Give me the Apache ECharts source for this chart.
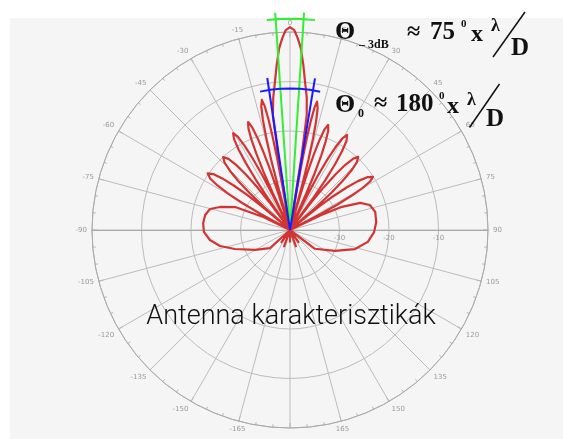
<!DOCTYPE html>
<html>
<head>
<meta charset="utf-8">
<script src="https://cdn.jsdelivr.net/npm/echarts@6/dist/echarts.min.js"></script>
<style>
  html, body { margin: 0; padding: 0; background: #ffffff; }
  #chart { width: 563px; height: 439px; }
</style>
</head>
<body>
<div id="chart"></div>
<script>
// Angle ticks (degrees, 0 = boresight, clockwise positive) and level rings (dB)
const angleMin = -180, angleMax = 180, angleStep = 15;
const levelMin = -40, levelMax = 0, levelStep = 10;
// headroom above 0 dB so the main lobe and beam markers can reach past the outer ring
const levelTop = 5;

// Radiation pattern, [angle in degrees, level in dB], ordered by angle
const backLobesLeft = [[-180,-37.5],[-168,-40],[-160,-36.5],[-152,-40],[-145,-37],[-140,-40]];
const wideLobeLeft = [[-132,-34.5],[-119.7,-31.9],[-109,-28.2],[-102.9,-25.5],[-97.1,-23.7],[-91.3,-22.6],
  [-85.4,-22.4],[-80,-22.6],[-75.3,-23.3],[-71.8,-25.1],[-67.3,-28.0],[-64,-34],[-63,-40]];
const sideLobesLeft = [
  [-62.0,-40],[-61.35,-32.9],[-60.57,-28.9],[-59.53,-25.5],[-58.43,-22.8],[-57.13,-20.8],[-55.5,-19.8],
  [-53.95,-20.8],[-52.71,-22.8],[-51.66,-25.5],[-50.66,-28.9],[-49.92,-32.9],[-49.3,-40],
  [-49.0,-40],[-48.35,-33.0],[-47.57,-29.0],[-46.53,-25.6],[-45.43,-23.0],[-44.13,-21.0],[-42.5,-20.0],
  [-40.87,-21.0],[-39.57,-23.0],[-38.47,-25.6],[-37.43,-29.0],[-36.65,-33.0],[-36.0,-40],
  [-35.2,-40],[-34.72,-32.1],[-34.14,-27.5],[-33.38,-23.7],[-32.56,-20.7],[-31.6,-18.4],[-30.4,-17.3],
  [-29.25,-18.4],[-28.33,-20.7],[-27.55,-23.7],[-26.81,-27.5],[-26.26,-32.1],[-25.8,-40],
  [-25.4,-40],[-24.98,-31.8],[-24.48,-27.1],[-23.8,-23.2],[-23.09,-20.1],[-22.25,-17.8],[-21.2,-16.6],
  [-20.25,-17.8],[-19.49,-20.1],[-18.84,-23.2],[-18.24,-27.1],[-17.78,-31.8],[-17.4,-40],
  [-15.8,-40],[-15.44,-30.6],[-15.01,-25.2],[-14.43,-20.6],[-13.82,-17.1],[-13.1,-14.4],[-12.2,-13.1],
  [-11.55,-14.4],[-11.03,-17.1],[-10.59,-20.6],[-10.17,-25.2],[-9.86,-30.6],[-9.6,-40]];
const mainLobe = [[-9.4,-40],[-9.0,-25],[-8.5,-16.6],[-7.2,-13.0],[-5.8,-9.9],[-4.6,-6.5],[-3.4,-3.2],
  [-2.3,-1.2],[-1.2,0.4],[0,1.0],[1.2,0.4],[2.3,-1.2],[3.4,-3.2],[4.6,-6.5],[5.8,-9.9],[7.2,-13.0],
  [8.3,-16.6],[8.9,-25],[9.3,-40]];
const sideLobesRight = [
  [9.5,-40],[9.74,-30.7],[10.03,-25.4],[10.41,-20.9],[10.82,-17.5],[11.3,-14.8],[11.9,-13.5],
  [12.8,-14.8],[13.52,-17.5],[14.13,-20.9],[14.71,-25.4],[15.14,-30.7],[15.5,-40],
  [16.1,-40],[16.48,-32.1],[16.94,-27.6],[17.54,-23.7],[18.19,-20.8],[18.95,-18.5],[19.9,-17.4],
  [21.05,-18.5],[21.97,-20.8],[22.75,-23.7],[23.49,-27.6],[24.04,-32.1],[24.5,-40],
  [26.0,-40],[26.5,-32.2],[27.1,-27.7],[27.9,-23.9],[28.75,-21.0],[29.75,-18.7],[31.0,-17.6],
  [32.38,-18.7],[33.48,-21.0],[34.41,-23.9],[35.29,-27.7],[35.95,-32.2],[36.5,-40],
  [37.0,-40],[37.6,-32.9],[38.32,-28.9],[39.28,-25.5],[40.3,-22.8],[41.5,-20.8],[43.0,-19.8],
  [44.63,-20.8],[45.93,-22.8],[47.03,-25.5],[48.07,-28.9],[48.85,-32.9],[49.5,-40],
  [50.4,-40],[51.1,-33.0],[51.94,-29.1],[53.06,-25.7],[54.25,-23.1],[55.65,-21.1],[57.4,-20.1],
  [58.8,-21.1],[59.92,-23.1],[60.87,-25.7],[61.77,-29.1],[62.44,-33.0],[63.0,-40]];
const wideLobeRight = [[63.5,-40],[64.5,-33],[66,-28.5],[68.9,-24.8],[72.6,-23.1],[78,-22.4],[84.7,-22.5],
  [91.4,-23.0],[98.7,-24.1],[106.3,-26.3],[115,-30.0],[127,-33.7],[138,-40]];
const backLobesRight = [[145,-37],[152,-40],[160,-36.5],[168,-40],[180,-37.5]];

// Half-power (-3 dB) beam edges and first-null beam edges: [angle, level] pairs
const halfPowerLeft = [[-3.9,-40],[-3.9,4.0]];
const halfPowerRight = [[3.7,-40],[3.7,4.0]];
const halfPowerArc = [[-6.3,2.7],[-3,2.7],[0,2.7],[3,2.7],[6.8,2.7]];
const nullLeft = [[-8.5,-40],[-8.5,-8.95]];
const nullRight = [[9.35,-40],[9.35,-8.95]];
const nullArc = [[-12.2,-11.4],[-8,-11.4],[-4,-11.4],[0,-11.4],[4,-11.4],[8,-11.4],[12.3,-11.4]];

const pattern = [].concat(backLobesLeft, wideLobeLeft, sideLobesLeft, mainLobe,
  sideLobesRight, wideLobeRight, backLobesRight);

// polar series take [radius, angle]
const toPolar = arr => arr.map(p => [p[1], p[0]]);

const cx = 290, cy = 230, gridRadius = 198;
const dataRadius = gridRadius * (levelTop - levelMin) / (levelMax - levelMin);

const chart = echarts.init(document.getElementById('chart'), null, { renderer: 'canvas' });

const gridGray = '#bcbcbc';
const axisGray = '#a8a8a8';
const serif = '"Liberation Serif", "Times New Roman", serif';

function lineSeries(data, color, width, z) {
  return {
    type: 'line', coordinateSystem: 'polar', polarIndex: 2,
    data: toPolar(data), symbol: 'none', clip: false, silent: true, z: z,
    lineStyle: { color: color, width: width, join: 'round' }
  };
}

function txt(text, x, y, size, extra) {
  return Object.assign({
    type: 'text', x: x, y: y, z: 100,
    style: {
      text: text, fontFamily: serif, fontWeight: 'bold', fontSize: size,
      fill: '#111', align: 'left', verticalAlign: 'middle'
    }
  }, extra || {});
}

const option = {
  animation: false,
  backgroundColor: '#ffffff',
  polar: [
    { center: [cx, cy], radius: gridRadius },
    { center: [cx, cy], radius: gridRadius },
    { center: [cx, cy], radius: dataRadius },
    { center: [cx, cy], radius: gridRadius }
  ],
  angleAxis: [
    {
      polarIndex: 0, type: 'value', min: angleMin, max: angleMax, interval: angleStep,
      startAngle: 270, clockwise: true,
      axisLine: { show: true, lineStyle: { color: '#aaaaaa', width: 1 } },
      axisTick: { show: true, inside: true, length: 5, lineStyle: { color: '#aaaaaa' } },
      minorTick: { show: true, splitNumber: 3, length: 3, lineStyle: { color: '#b5b5b5' } },
      axisLabel: {
        show: true, margin: 5, fontSize: 7, color: '#9a9a9a', fontFamily: 'DejaVu Sans',
        formatter: v => (v === angleMin ? '' : String(v))
      },
      splitLine: { show: true, lineStyle: { color: gridGray, width: 1 } }
    },
    { polarIndex: 1, type: 'value', min: 0, max: 360, startAngle: 0, show: false },
    {
      polarIndex: 2, type: 'value', min: angleMin, max: angleMax, interval: angleStep,
      startAngle: 270, clockwise: true, show: false
    },
    { polarIndex: 3, type: 'value', min: 0, max: 360, startAngle: 180, show: false }
  ],
  radiusAxis: [
    {
      polarIndex: 0, type: 'value', min: levelMin, max: levelMax, interval: levelStep,
      axisLine: { show: false }, axisTick: { show: false }, axisLabel: { show: false },
      splitLine: { show: true, lineStyle: { color: gridGray, width: 1 } }
    },
    {
      polarIndex: 1, type: 'value', min: levelMin, max: levelMax, interval: levelStep,
      axisLine: { show: true, lineStyle: { color: axisGray, width: 1 } },
      axisTick: { show: false }, splitLine: { show: false },
      axisLabel: {
        show: true, fontSize: 7, color: '#9a9a9a', margin: -12, fontFamily: 'DejaVu Sans',
        formatter: v => (v === levelMin || v === levelMax ? '' : String(v))
      }
    },
    { polarIndex: 2, type: 'value', min: levelMin, max: levelTop, show: false },
    {
      polarIndex: 3, type: 'value', min: levelMin, max: levelMax, interval: levelStep,
      axisLine: { show: true, lineStyle: { color: axisGray, width: 1 } },
      axisTick: { show: false }, axisLabel: { show: false }, splitLine: { show: false }
    }
  ],
  series: [
    lineSeries(pattern, '#d23434', 2.2, 3),
    lineSeries(halfPowerLeft, '#33ee33', 2, 4),
    lineSeries(halfPowerRight, '#33ee33', 2, 4),
    lineSeries(halfPowerArc, '#33ee33', 2, 4),
    lineSeries(nullLeft, '#1a1aff', 2, 5),
    lineSeries(nullRight, '#1a1aff', 2, 5),
    lineSeries(nullArc, '#1a1aff', 2, 5)
  ],
  graphic: [
    { type: 'rect', z: -10, shape: { x: 10, y: 18, width: 553, height: 421 }, style: { fill: '#f5f5f5' } },

    txt('\u0398', 335, 32.5, 26),
    txt('\u2013 3dB', 359, 45, 12),
    txt('\u2248', 407, 33, 24),
    txt('75', 430, 33, 25),
    txt('0', 461, 24, 11),
    txt('x', 471, 35, 24),
    txt('\u03bb', 491, 26, 18),
    { type: 'line', z: 100, shape: { x1: 493, y1: 57, x2: 525, y2: 12 }, style: { stroke: '#111', lineWidth: 1.5 } },
    txt('D', 511, 48.5, 25),

    txt('\u0398', 335, 105, 26),
    txt('0', 358, 114, 12),
    txt('\u2248', 374, 104, 24),
    txt('180', 396, 105, 25),
    txt('0', 439, 96.5, 11),
    txt('x', 447, 107, 24),
    txt('\u03bb', 467, 100.5, 18),
    { type: 'line', z: 100, shape: { x1: 469.5, y1: 127.5, x2: 499.5, y2: 84 }, style: { stroke: '#111', lineWidth: 1.5 } },
    txt('D', 486, 120, 25),

    {
      type: 'text', x: 291, y: 317, z: 100,
      style: {
        text: 'Antenna karakterisztikák', fontFamily: 'Roboto, "Liberation Sans", sans-serif',
        fontWeight: 300, fontSize: 27, fill: '#111', align: 'center', verticalAlign: 'middle'
      }
    }
  ]
};

chart.setOption(option);
</script>
</body>
</html>
